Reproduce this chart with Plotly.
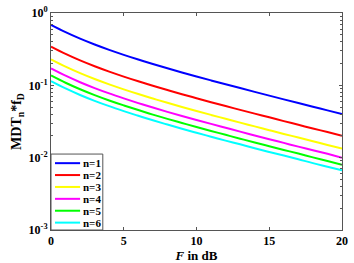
import plotly.graph_objects as go

F_dB = list(range(0, 21))

mdt_n1 = [0.6855, 0.5430, 0.4417, 0.3667, 0.3092, 0.2639, 0.2273, 0.1972, 0.1721, 0.1508,
          0.1327, 0.1170, 0.1034, 0.0916, 0.0812, 0.0721, 0.0640, 0.0569, 0.0506, 0.0451, 0.0401]
mdt_n2 = [0.3428, 0.2715, 0.2209, 0.1834, 0.1546, 0.1320, 0.1137, 0.0986, 0.0861, 0.0754,
          0.0664, 0.0585, 0.0517, 0.0458, 0.0406, 0.0361, 0.0320, 0.0285, 0.0253, 0.0226, 0.0201]
mdt_n3 = [0.2285, 0.1810, 0.1472, 0.1222, 0.1031, 0.0880, 0.0758, 0.0657, 0.0574, 0.0503,
          0.0442, 0.0390, 0.0345, 0.0305, 0.0271, 0.0240, 0.0213, 0.0190, 0.0169, 0.0150, 0.0134]
mdt_n4 = [0.1714, 0.1358, 0.1104, 0.0917, 0.0773, 0.0660, 0.0568, 0.0493, 0.0430, 0.0377,
          0.0332, 0.0293, 0.0259, 0.0229, 0.0203, 0.0180, 0.0160, 0.0142, 0.0127, 0.0113, 0.0100]
mdt_n5 = [0.1371, 0.1086, 0.0883, 0.0733, 0.0618, 0.0528, 0.0455, 0.0394, 0.0344, 0.0302,
          0.0265, 0.0234, 0.0207, 0.0183, 0.0162, 0.0144, 0.0128, 0.0114, 0.0101, 0.0090, 0.0080]
mdt_n6 = [0.1143, 0.0905, 0.0736, 0.0611, 0.0515, 0.0440, 0.0379, 0.0329, 0.0287, 0.0251,
          0.0221, 0.0195, 0.0172, 0.0153, 0.0135, 0.0120, 0.0107, 0.0095, 0.0084, 0.0075, 0.0067]

series_names = ["n=1", "n=2", "n=3", "n=4", "n=5", "n=6"]
series_values = [mdt_n1, mdt_n2, mdt_n3, mdt_n4, mdt_n5, mdt_n6]
colors = ["#0000FF", "#FF0000", "#FFFF00", "#FF00FF", "#00FF00", "#00FFFF"]

x_ticks = [0, 5, 10, 15, 20]
x_ticktext = ["<b>0</b>", "<b>5</b>", "<b>10</b>", "<b>15</b>", "<b>20</b>"]
y_tickvals = [1e-3, 1e-2, 1e-1, 1]
y_ticktext = ["<b>10<sup>-3</sup></b>", "<b>10<sup>-2</sup></b>",
              "<b>10<sup>-1</sup></b>", "<b>10<sup>0</sup></b>"]

FONT = "Liberation Serif"
AXC = "#555555"

fig = go.Figure()
for name, vals, col in zip(series_names, series_values, colors):
    fig.add_trace(go.Scatter(x=F_dB, y=vals, mode="lines", name=name,
                             line=dict(color=col, width=2, shape="spline"),
                             showlegend=False))

# manual compact legend (MATLAB style)
leg_x1 = 0.178
leg_y1 = 0.35
fig.add_shape(type="rect", xref="paper", yref="paper", x0=0, x1=leg_x1, y0=0, y1=leg_y1,
              line=dict(color=AXC, width=1), fillcolor="white", layer="above")
row_top, row_step = 0.308, 0.0548
for i, (name, col) in enumerate(zip(series_names, colors)):
    yy = row_top - i * row_step
    fig.add_shape(type="line", xref="paper", yref="paper", x0=0.0137, x1=0.100, y0=yy, y1=yy,
                  line=dict(color=col, width=2), layer="above")
    fig.add_annotation(xref="paper", yref="paper", x=0.102, y=yy, text="<b>%s</b>" % name,
                       showarrow=False, xanchor="left", yanchor="middle",
                       font=dict(family=FONT, size=11, color="black"))

minor_vals = [m * 10 ** e for e in (-3, -2, -1) for m in range(2, 10)]

fig.update_layout(
    width=354, height=263,
    margin=dict(l=51, r=12, t=13, b=33, autoexpand=False),
    paper_bgcolor="white", plot_bgcolor="white",
    font=dict(family=FONT, size=12, color="black"),
    xaxis=dict(range=[0, 20], tickvals=x_ticks, ticktext=x_ticktext, ticks="inside", ticklen=3,
               showline=True, linecolor=AXC, linewidth=1, mirror="ticks", automargin=False,
               showgrid=False, zeroline=False, tickcolor=AXC,
               tickfont=dict(family=FONT, size=12, color="black"),
               title=dict(text="<b><i>F</i> in dB</b>", standoff=1,
                          font=dict(family=FONT, size=13, color="black"))),
    yaxis=dict(type="log", range=[-3, 0], tickvals=y_tickvals, ticktext=y_ticktext,
               ticks="inside", ticklen=3, tickcolor=AXC, automargin=False,
               showline=True, linecolor=AXC, linewidth=1, mirror="ticks",
               showgrid=False, zeroline=False,
               minor=dict(tickvals=minor_vals, ticks="inside", ticklen=2, tickcolor=AXC, showgrid=False),
               tickfont=dict(family=FONT, size=12, color="black"),
               title=dict(text="<b>MDT<sub>n</sub>*f<sub>D</sub></b>", standoff=3,
                          font=dict(family=FONT, size=14, color="black"))),
)

fig.write_html("out.html", config={"displayModeBar": False},
               post_script="document.body.style.margin='0';document.body.style.overflow='hidden';")
